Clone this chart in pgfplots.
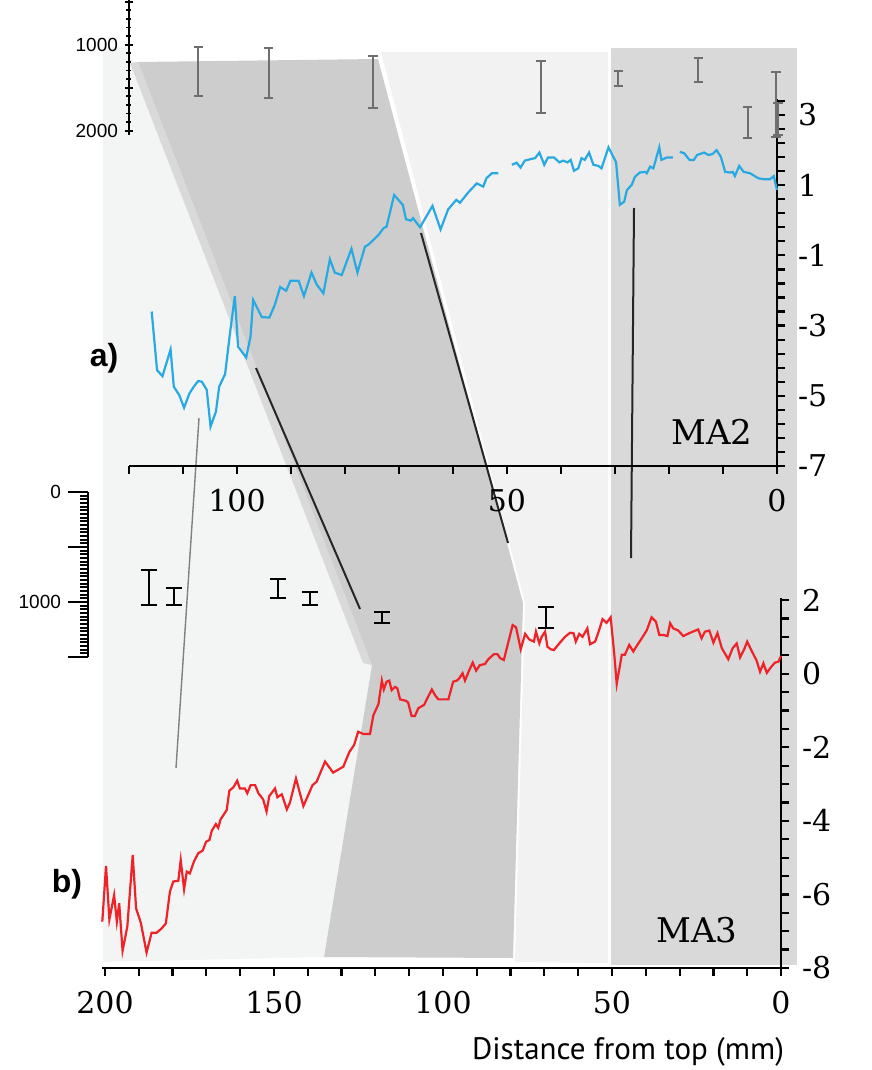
\documentclass[border=0pt]{standalone}
\usepackage{pgfplots}
\pgfplotsset{compat=1.18}
\usepackage{fontspec}
\setmainfont{DejaVu Serif}
\newfontfamily\labelsans{PT Sans}
\newfontfamily\rulersans{Liberation Sans}

\definecolor{bluecurve}{HTML}{29A9E1}
\definecolor{redcurve}{HTML}{EE2227}
\definecolor{shadeA}{HTML}{CDCDCD}
\definecolor{shadeB}{HTML}{D9D9D9}
\definecolor{paleA}{HTML}{F3F4F4}
\definecolor{paleB}{HTML}{F2F2F2}
\definecolor{errgray}{HTML}{6E6E6E}

\pgfplotsset{
  panel/.style={
    scale only axis, clip=false,
    x dir=reverse,
    axis x line=bottom, axis y line=right,
    axis line style={-, line width=1.2pt, black},
    every tick/.style={black, line width=1.1pt},
    tick align=outside,
    major tick length=4pt, minor tick length=4pt,
    /pgf/number format/assume math mode=true,
    tick label style={font=\fontsize{15}{15}\selectfont},
    xticklabel style={yshift=-4pt},
    yticklabel style={xshift=3pt},
  },
  ruler/.style={
    scale only axis, clip=false,
    x dir=reverse, y dir=reverse,
    axis x line=none, axis y line=left,
    axis line style={-, line width=1.2pt, black},
    every tick/.style={black, line width=0.9pt},
    /pgf/number format/assume math mode=true,
    yticklabel style={font=\rulersans\fontsize{9.5}{9.5}\selectfont},
  },
}

\begin{document}
\begin{tikzpicture}
\useasboundingbox (0,0) rectangle (436pt,535pt);

% shaded correlation bands, tie lines and panel captions (1 unit = 0.5pt)
\begin{axis}[
  at={(0,0)}, anchor=south west,
  width=436pt, height=535pt, scale only axis,
  xmin=0, xmax=872, ymin=0, ymax=1070, y dir=reverse,
  hide axis, clip=false]
\addplot[fill=paleA, draw=none] coordinates {(103,47) (129,47) (133,62) (372,665) (324,957) (103,962)} -- cycle;
\addplot[fill=paleB, draw=none] coordinates {(381,52) (608,52) (608,963) (515,962) (525,603)} -- cycle;
\addplot[fill=shadeB, draw=none] coordinates {(611,48) (797,48) (797,965) (611,965)} -- cycle;
\addplot[fill=shadeB, draw=none] coordinates {(130,63) (138,62) (372,665) (363,663)} -- cycle;
\addplot[fill=shadeA, draw=none] coordinates {(138,62) (378,59) (523,603) (513,958) (324,957) (372,665)} -- cycle;
\addplot[color=gray, line width=0.7pt] coordinates {(199,418) (176,768)};
\addplot[color=black!85, line width=1pt] coordinates {(256,368) (360,609)};
\addplot[color=black!85, line width=1pt] coordinates {(421,233) (508,543)};
\addplot[color=black!85, line width=1pt] coordinates {(634,208) (631,558)};
\node[font=\rulersans\bfseries\fontsize{16}{16}\selectfont] at (axis cs:104,358) {a)};
\node[font=\rulersans\bfseries\fontsize{16}{16}\selectfont] at (axis cs:67,884) {b)};
\node[font=\fontsize{17}{17}\selectfont] at (axis cs:712,432) {MA2};
\node[font=\fontsize{17}{17}\selectfont] at (axis cs:697,930) {MA3};
\node[font=\labelsans\fontsize{15.5}{15.5}\selectfont, anchor=east] at (axis cs:791,1052) {Distance from top (mm)};
\end{axis}

% MA2 record
\begin{axis}[panel,
  at={(64.5pt,302pt)}, anchor=south west,
  width=324pt, height=183.4pt,
  xmin=0, xmax=120, ymin=-7, ymax=3.45,
  xtick={0,50,100}, minor xtick={10,20,30,40,60,70,80,90,110,120},
  ytick={-7,-5,...,3}, minor ytick={-6.6,-6.2,...,3.45}]
\addplot[color=bluecurve, line width=1.1pt] coordinates {
(115.8,-2.60) (114.8,-4.27) (113.8,-4.44) (112.3,-3.68) (111.7,-4.74) (110.7,-4.98)
(109.8,-5.34) (108.8,-4.93) (108.0,-4.74) (107.2,-4.58) (106.5,-4.60) (105.6,-4.83)
(104.9,-5.88) (103.9,-5.45) (103.3,-4.74) (102.2,-4.38) (101.3,-3.22) (100.4,-2.16)
(99.8,-3.60) (98.3,-3.91) (97.5,-3.32) (97.0,-2.27) (95.4,-2.76) (94.0,-2.77)
(93.0,-2.41) (92.0,-1.90) (90.9,-2.01) (90.1,-1.72) (88.6,-1.72) (87.6,-2.16)
(86.2,-1.49) (85.2,-1.84) (84.0,-2.08) (82.8,-1.11) (81.9,-1.49) (80.6,-1.56)
(78.8,-0.81) (77.7,-1.49) (76.3,-0.75) (75.7,-0.70) (73.8,-0.42) (72.9,-0.23)
(72.3,-0.18) (70.9,0.72) (69.3,0.44) (68.7,0.03) (67.8,-0.01) (67.4,0.06)
(66.1,-0.20) (63.8,0.41) (62.3,-0.26) (60.9,0.31) (59.4,0.58) (58.7,0.50)
(57.2,0.79) (55.6,1.05) (54.4,0.96) (53.8,1.20) (52.8,1.34) (51.6,1.34)};
\addplot[color=bluecurve, line width=1.1pt] coordinates {
(49.1,1.58) (48.2,1.64) (47.5,1.50) (46.7,1.70) (45.7,1.74) (44.8,1.77)
(44.0,1.93) (43.1,1.58) (42.4,1.79) (41.3,1.79) (40.3,1.65) (39.6,1.70)
(38.8,1.65) (38.2,1.72) (37.6,1.41) (36.8,1.48) (36.2,1.77) (35.6,1.72)
(34.8,1.93) (34.0,1.58) (33.1,1.55) (32.5,1.48) (31.2,2.08) (29.8,1.65)
(29.1,0.44) (28.3,0.53) (27.8,0.86) (26.9,1.01) (26.3,1.24) (25.4,1.36)
(24.4,1.38) (24.1,1.34) (23.5,1.53) (22.9,1.48) (21.8,2.08) (21.4,1.72)
(20.4,1.79) (19.3,1.79)};
\addplot[color=bluecurve, line width=1.1pt] coordinates {
(18.0,1.95) (17.2,1.91) (16.2,1.72) (15.4,1.72) (14.8,1.86) (13.5,1.93)
(12.7,1.86) (11.9,1.89) (11.2,2.00) (10.4,1.81) (9.6,1.38) (8.7,1.36)
(8.2,1.38) (7.8,1.26) (7.0,1.55) (6.2,1.38) (5.0,1.34) (3.5,1.20)
(2.5,1.17) (1.3,1.17) (0.6,1.26) (0.0,0.86)};
\end{axis}

% MA2 age scale and dating uncertainties
\begin{axis}[ruler,
  at={(64.5pt,535pt)}, anchor=north west,
  width=324pt, height=67.51pt,
  xmin=0, xmax=120, ymin=480, ymax=2050,
  ytick={500,1000,1500,2000}, yticklabels={,1000,,2000},
  minor y tick num=4, tick align=center,
  major tick length=4pt, minor tick length=2.5pt]
\addplot[draw=none, error bars/.cd, y dir=both, y explicit,
  error mark=|,
  error bar style={draw=errgray, line width=0.9pt},
  error mark options={draw=errgray, line width=0.9pt, mark size=2.3pt}]
  coordinates {
  (107.2,1308) +- (0,285)
  (94.1,1326) +- (0,291)
  (74.8,1430) +- (0,302)
  (43.7,1488) +- (0,302)
  (29.4,1390) +- (0,87)
  (14.6,1291) +- (0,140)
  (5.4,1901) +- (0,180)
  (0.2,1692) +- (0,378)
  (-0.2,1860) +- (0,186)};
\end{axis}

% MA3 record
\begin{axis}[panel,
  at={(51.15pt,51pt)}, anchor=south west,
  width=339.35pt, height=184.92pt,
  xmin=0, xmax=200.8, ymin=-8, ymax=2.05,
  xtick={0,50,...,200}, minor xtick={10,20,30,40,60,70,80,90,110,120,130,140,160,170,180,190},
  ytick={-8,-6,...,2}, minor y tick num=3]
\addplot[color=redcurve, line width=1.1pt] coordinates {
(200.8,-6.74) (199.7,-5.23) (198.7,-6.68) (197.3,-6.02) (196.5,-6.74) (195.8,-6.24)
(194.8,-7.53) (193.4,-6.88) (191.8,-4.93) (190.8,-6.38) (189.4,-6.77) (187.7,-7.58)
(186.2,-7.04) (184.7,-7.04) (183.2,-6.92) (182.0,-6.79) (180.8,-5.93) (179.8,-5.65)
(178.3,-5.63) (177.6,-5.07) (176.6,-5.86) (175.8,-5.38) (174.9,-5.43) (173.7,-5.11)
(172.4,-4.88) (171.1,-4.81) (170.1,-4.57) (169.1,-4.52) (168.4,-4.27) (167.2,-4.09)
(166.5,-4.19) (165.8,-3.96) (164.0,-3.71) (163.2,-3.18) (162.0,-3.09) (160.9,-2.91)
(160.1,-3.12) (158.6,-3.12) (157.9,-3.25) (156.9,-3.03) (155.6,-3.03) (154.6,-3.25)
(153.2,-3.42) (152.2,-3.75) (151.4,-3.33) (149.7,-3.12) (149.0,-3.36) (147.7,-3.28)
(146.2,-3.69) (145.3,-3.51) (143.5,-2.85) (141.3,-3.60) (138.6,-3.03) (137.4,-2.94)
(134.9,-2.39) (132.5,-2.69) (129.5,-2.53) (127.7,-2.13) (126.3,-1.94) (125.1,-1.58)
(123.6,-1.64) (121.6,-1.64) (120.6,-1.13) (119.1,-0.83) (118.1,-0.19) (117.5,-0.43)
(116.7,-0.22) (115.9,-0.19) (115.2,-0.45) (114.2,-0.36) (113.5,-0.40) (112.7,-0.70)
(110.9,-0.74) (110.3,-0.79) (109.3,-1.15) (108.3,-1.15) (107.3,-0.94) (105.6,-0.85)
(104.8,-0.70) (103.3,-0.43) (102.4,-0.58) (101.4,-0.70) (98.4,-0.70) (97.0,-0.22)
(95.9,-0.19) (95.2,-0.13) (94.2,0.01) (93.5,-0.19) (92.2,0.10) (91.2,0.30)
(90.2,0.08) (89.1,0.23) (87.6,0.26) (86.6,0.39) (84.9,0.53) (83.9,0.53)
(83.1,0.42) (82.0,0.37) (79.4,1.32) (78.4,1.26) (77.0,0.66) (75.7,1.08)
(74.5,0.93) (73.1,0.87) (72.5,1.14) (71.5,0.82) (70.8,1.00) (69.8,1.14)
(69.1,0.73) (68.1,0.66) (67.2,0.64) (65.6,0.82) (63.9,1.00) (62.4,1.11)
(61.4,1.10) (60.7,0.87) (59.7,1.08) (58.7,1.00) (57.3,1.23) (56.5,0.80)
(55.0,0.87) (54.1,1.10) (52.8,1.48) (51.6,1.38) (50.4,1.53) (49.4,0.60)
(48.6,-0.28) (47.1,0.51) (46.2,0.51) (44.9,0.78) (43.7,0.60) (42.5,0.78)
(41.2,0.96) (39.7,1.18) (38.3,1.53) (37.0,1.41) (36.0,1.05) (34.8,1.05)
(33.6,1.02) (32.8,1.37) (31.9,1.23) (30.4,1.17) (28.9,1.02) (26.9,1.11)
(24.5,1.20) (23.5,0.96) (22.5,1.14) (21.2,1.17) (20.0,0.84) (18.8,1.10)
(17.5,0.69) (15.6,0.39) (14.3,0.69) (13.1,0.82) (12.1,0.44) (10.9,0.66)
(10.0,0.87) (8.7,0.62) (7.2,0.35) (6.2,0.05) (5.2,0.28) (4.2,0.02)
(3.0,0.17) (1.8,0.30) (0.8,0.32) (0.0,0.48)};
\end{axis}

% MA3 age scale and dating uncertainties
\begin{axis}[ruler,
  at={(390.5pt,289pt)}, anchor=north east,
  width=346.5pt, height=82.5pt,
  xmin=0, xmax=205, ymin=0, ymax=1500,
  ytick={0,500,1000,1500}, yticklabels={0,,1000,},
  minor y tick num=14, tick align=outside,
  major tick length=10pt, minor tick length=4pt]
\addplot[draw=none, error bars/.cd, y dir=both, y explicit,
  error mark=|,
  error bar style={draw=black, line width=1pt},
  error mark options={draw=black, line width=1pt, mark size=4pt}]
  coordinates {
  (187.0,868) +- (0,159)
  (179.6,950) +- (0,77)
  (148.8,877) +- (0,86)
  (139.3,968) +- (0,59)
  (118.0,1141) +- (0,50)
  (69.5,1141) +- (0,95)};
\end{axis}
\end{tikzpicture}
\end{document}
